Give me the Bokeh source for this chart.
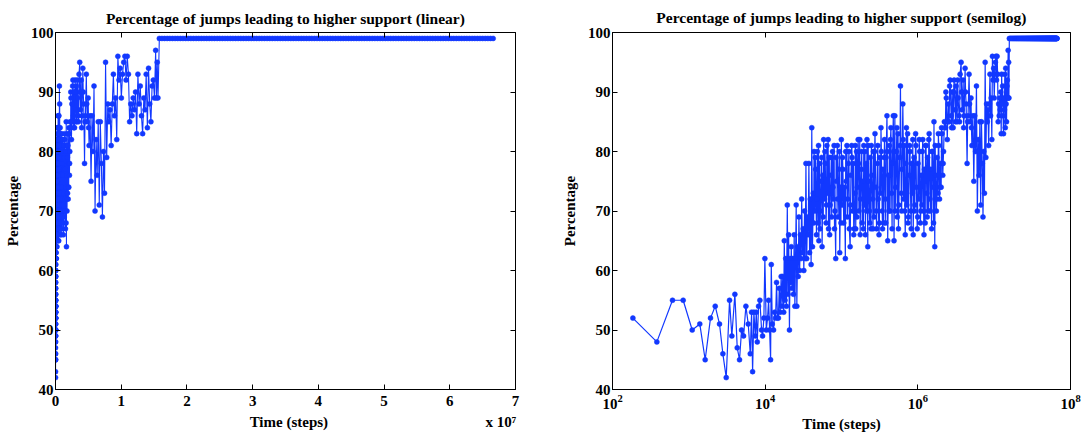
from bokeh.plotting import figure
from bokeh.layouts import row
from bokeh.models import (FixedTicker, CustomJSTickFormatter, LinearAxis,
                          Range1d, ColumnDataSource, CustomLabelingPolicy)
from bokeh.embed import file_html
from bokeh.resources import INLINE

# ---------------- data (time in steps, percentage) ----------------
time_early = [185, 381, 611, 843, 1107, 1393, 1637, 1922, 2217, 2524, 2791, 3090, 3414, 3660, 4010,
              4305, 4616, 4906, 5213, 5590, 6001, 6377, 6637, 6844, 7116, 7418, 7645, 7878, 8190, 8525,
              8975, 9250, 9620, 9910, 10340, 10750, 11090, 11430, 11780, 12020, 12390, 12890, 13290,
              13690, 14100]
pct_early = [52, 48, 55, 55, 50, 51, 45, 52, 54, 51, 46, 42, 55, 49, 56,
             47, 45, 50, 49, 54, 51, 46, 53, 43, 53, 49, 53, 48, 54, 55,
             50, 49, 52, 62, 50, 52, 55, 50, 45, 61, 51, 50, 53, 52, 58]

time_rise = [14500, 14900, 15300, 15700, 16200, 16600, 17000, 17500, 17800, 18200, 18600, 19000,
             19500, 19900, 20300, 20800, 21200, 21600, 22000, 22500, 23000, 23500, 24000, 24500,
             25000, 25500, 26000, 26600, 27100, 27700, 28300, 28900, 29500, 30100, 30800, 31500,
             32100, 32800, 33500, 34200, 35000, 35800, 36600, 37400, 38200, 39000, 40000, 40800, 41700]
pct_rise = [52, 52, 57, 53, 59, 54, 59, 53, 65, 55, 62, 54,
            71, 56, 66, 50, 62, 58, 64, 57, 62, 56, 66, 54,
            62, 71, 54, 64, 59, 69, 60, 66, 62, 72, 63, 67,
            60, 70, 62, 78, 62, 69, 66, 78, 63, 72, 61, 84, 64]

time_mid = [42700, 43700, 44800, 45900, 47000, 48200, 49300, 50500, 51800, 53000, 54300, 55700,
            57000, 58400, 59900, 61300, 62800, 64400, 66000, 67600, 69200, 70900, 72700, 74400,
            76300, 78100, 80000, 82000, 84000, 86100, 88200, 90300, 92500, 94800, 97100, 99500,
            101900, 104400, 107000, 109600, 112300, 115000, 117800, 120700, 123700, 126700, 129800,
            133000, 136200, 139600, 143000, 146500, 150100, 153700, 157500, 161300, 165300, 169300,
            173500, 177700, 182100, 186500, 191100, 195800, 200600, 205500, 210500, 215700, 221000,
            226400, 231900, 237600, 243400, 249400, 255500, 261700, 268100, 274700, 281400, 288300,
            295400, 302600, 310000, 317600]
pct_mid = [73, 80, 70, 77, 66, 80, 68, 65, 78, 70, 75, 64,
           76, 82, 72, 78, 68, 81, 73, 67, 79, 71, 76, 69,
           80, 72, 81, 70, 62, 75, 81, 69, 77, 63, 74, 82,
           71, 77, 68, 74, 62, 75, 81, 72, 78, 67, 64,
           76, 81, 70, 78, 67, 73, 67, 80, 74, 82, 70,
           82, 72, 77, 68, 75, 81, 71, 66, 78, 82, 64,
           75, 70, 79, 67, 76, 72, 80, 69, 83, 74, 67,
           78, 72, 66, 79]
# further samples read inside the dense band (10^4.6 .. 10^5.5)
time_mid_b = [43200, 45300, 47600, 50000, 52400, 55000, 57700, 60600, 63600, 66800, 70000, 73500,
              77200, 81000, 85000, 89200, 93600, 98300, 103100, 108300, 113600, 119200, 125200,
              131400, 137900, 144700, 151900, 159400, 167300, 175600, 184300, 193400, 203000,
              213000, 223700, 234700, 246400, 258600, 271400, 284800, 298900, 313800]
pct_mid_b = [68, 79, 72, 81, 67, 79, 69, 80, 71, 82, 66, 79,
             74, 67, 79, 72, 80, 68, 79, 72, 80, 69, 80,
             71, 79, 66, 81, 69, 78, 66, 80, 67, 80,
             70, 81, 68, 81, 67, 80, 70, 81, 68]

time_late = [325000, 333000, 341000, 349000, 358000, 366000, 375000, 384000, 394000, 403000,
             413000, 423000, 433000, 444000, 454000, 465000, 477000, 488000, 500000, 512000,
             525000, 538000, 551000, 564000, 578000, 592000, 606000, 621000, 636000, 652000,
             668000, 684000, 700000, 717000, 735000, 753000, 771000, 790000, 809000, 829000,
             849000, 870000, 891000, 913000, 935000, 958000, 981000, 1005000, 1030000, 1055000,
             1080000, 1107000, 1134000, 1161000, 1190000, 1219000, 1248000, 1279000, 1310000,
             1342000, 1375000, 1408000, 1443000, 1478000, 1514000, 1551000, 1589000, 1627000,
             1667000, 1708000, 1749000, 1792000, 1836000, 1880000, 1926000, 1973000, 2021000,
             2071000, 2121000, 2173000, 2226000]
pct_late = [73, 80, 70, 77, 68, 82, 72, 79, 86, 65,
            76, 81, 70, 84, 73, 78, 86, 65, 86, 74,
            80, 69, 83, 71, 79, 91, 73, 77, 88, 72,
            81, 66, 78, 71, 83, 69, 76, 80, 70, 78,
            73, 66, 79, 71, 83, 74, 67, 78, 72, 80,
            68, 76, 71, 82, 70, 77, 68, 81, 73,
            79, 70, 83, 72, 77, 67, 80, 74, 85,
            64, 76, 70, 79, 73, 81, 72, 78, 74,
            83, 76, 80, 85]
# further samples read inside the dense band (10^5.5 .. 10^6.35)
time_late_b = [329000, 345000, 362000, 380000, 398000, 418000, 438000, 460000, 482000, 506000,
               531000, 557000, 585000, 614000, 644000, 676000, 708000, 744000, 780000, 819000,
               859000, 902000, 946000, 993000, 1042000, 1094000, 1147000, 1204000, 1263000,
               1326000, 1391000, 1460000, 1532000, 1608000, 1687000, 1770000, 1858000, 1949000,
               2046000, 2147000]
pct_late_b = [84, 67, 79, 68, 80, 70, 82, 67, 80, 70,
              84, 67, 81, 70, 82, 70, 84, 68, 81, 67,
              82, 70, 81, 69, 82, 70, 80, 66, 81,
              69, 82, 70, 80, 68, 81, 72, 83, 74,
              84, 78]

time_high = [2.30e6, 2.36e6, 2.43e6, 2.50e6, 2.57e6, 2.65e6, 2.73e6, 2.81e6, 2.90e6, 2.99e6,
             3.08e6, 3.17e6, 3.27e6, 3.37e6, 3.47e6, 3.58e6, 3.69e6, 3.80e6, 3.92e6, 4.04e6,
             4.16e6, 4.29e6, 4.42e6, 4.55e6, 4.69e6, 4.83e6, 4.97e6, 5.11e6, 5.26e6, 5.41e6,
             5.56e6, 5.71e6, 5.86e6, 6.02e6, 6.18e6, 6.34e6, 6.50e6, 6.66e6, 6.82e6, 6.98e6,
             7.14e6, 7.30e6, 7.46e6, 7.62e6, 7.79e6, 7.96e6, 8.13e6, 8.30e6, 8.47e6, 8.64e6,
             8.81e6, 8.98e6, 9.15e6, 9.32e6, 9.49e6, 9.66e6, 9.84e6, 10.02e6, 10.20e6, 10.38e6,
             10.56e6, 10.74e6, 10.92e6, 11.10e6, 11.28e6, 11.46e6, 11.64e6, 11.82e6, 12.00e6, 12.18e6,
             12.36e6, 12.54e6, 12.72e6, 12.90e6, 13.08e6, 13.26e6, 13.44e6, 13.62e6, 13.80e6, 13.98e6,
             14.16e6, 14.34e6, 14.52e6, 14.70e6, 14.88e6, 15.06e6, 15.24e6, 15.36e6, 15.48e6, 15.60e6]
pct_high = [84, 89, 82, 88, 85, 92, 86, 90, 84, 92,
            87, 91, 85, 89, 86, 93, 95, 87, 92, 86,
            94, 88, 78, 86, 93, 85, 89, 81, 86, 75,
            86, 80, 91, 70, 82, 76, 85, 71, 85, 78,
            69, 80, 73, 95, 79, 88, 85, 87, 81, 88,
            93, 86, 89, 82, 96, 92, 94, 89, 93, 95,
            96, 92, 96, 93, 85, 88, 86, 89, 87, 90,
            83, 93, 88, 91, 86, 83, 89, 87, 93, 84,
            94, 88, 85, 91, 92, 89, 97, 89, 95, 89]
time_high_b = [2.33e6, 2.46e6, 2.61e6, 2.77e6, 2.94e6, 3.12e6, 3.32e6, 3.52e6, 3.74e6, 3.98e6,
               4.22e6, 4.49e6, 4.76e6, 5.04e6]
pct_high_b = [90, 85, 91, 84, 90, 85, 92, 85, 90, 84,
              90, 85, 88, 84]

time_plateau = [15.8e6, 16.2e6, 16.6e6, 17.0e6, 17.4e6, 17.8e6, 18.2e6, 18.6e6, 19.0e6, 19.4e6, 19.8e6, 20.2e6, 20.6e6, 21.0e6, 21.4e6, 21.8e6,
                22.2e6, 22.6e6, 23.0e6, 23.4e6, 23.8e6, 24.2e6, 24.6e6, 25.0e6, 25.4e6, 25.8e6, 26.2e6, 26.6e6, 27.0e6, 27.4e6, 27.8e6, 28.2e6,
                28.6e6, 29.0e6, 29.4e6, 29.8e6, 30.2e6, 30.6e6, 31.0e6, 31.4e6, 31.8e6, 32.2e6, 32.6e6, 33.0e6, 33.4e6, 33.8e6, 34.2e6, 34.6e6,
                35.0e6, 35.4e6, 35.8e6, 36.2e6, 36.6e6, 37.0e6, 37.4e6, 37.8e6, 38.2e6, 38.6e6, 39.0e6, 39.4e6, 39.8e6, 40.2e6, 40.6e6, 41.0e6,
                41.4e6, 41.8e6, 42.2e6, 42.6e6, 43.0e6, 43.4e6, 43.8e6, 44.2e6, 44.6e6, 45.0e6, 45.4e6, 45.8e6, 46.2e6, 46.6e6, 47.0e6, 47.4e6,
                47.8e6, 48.2e6, 48.6e6, 49.0e6, 49.4e6, 49.8e6, 50.2e6, 50.6e6, 51.0e6, 51.4e6, 51.8e6, 52.2e6, 52.6e6, 53.0e6, 53.4e6, 53.8e6,
                54.2e6, 54.6e6, 55.0e6, 55.4e6, 55.8e6, 56.2e6, 56.6e6, 57.0e6, 57.4e6, 57.8e6, 58.2e6, 58.6e6, 59.0e6, 59.4e6, 59.8e6, 60.2e6,
                60.6e6, 61.0e6, 61.4e6, 61.8e6, 62.2e6, 62.6e6, 63.0e6, 63.4e6, 63.8e6, 64.2e6, 64.6e6, 65.0e6, 65.4e6, 65.8e6, 66.2e6, 66.6e6]
pct_plateau = [99, 99, 99, 99, 99, 99, 99, 99, 99, 99, 99, 99, 99, 99, 99, 99,
               99, 99, 99, 99, 99, 99, 99, 99, 99, 99, 99, 99, 99, 99, 99, 99,
               99, 99, 99, 99, 99, 99, 99, 99, 99, 99, 99, 99, 99, 99, 99, 99,
               99, 99, 99, 99, 99, 99, 99, 99, 99, 99, 99, 99, 99, 99, 99, 99,
               99, 99, 99, 99, 99, 99, 99, 99, 99, 99, 99, 99, 99, 99, 99, 99,
               99, 99, 99, 99, 99, 99, 99, 99, 99, 99, 99, 99, 99, 99, 99, 99,
               99, 99, 99, 99, 99, 99, 99, 99, 99, 99, 99, 99, 99, 99, 99, 99,
               99, 99, 99, 99, 99, 99, 99, 99, 99, 99, 99, 99, 99, 99, 99, 99]

# merge all samples into one time-ordered series
all_times = (time_early + time_rise + time_mid + time_mid_b + time_late + time_late_b
             + time_high + time_high_b + time_plateau)
all_pcts = (pct_early + pct_rise + pct_mid + pct_mid_b + pct_late + pct_late_b
            + pct_high + pct_high_b + pct_plateau)
ordered = sorted(zip(all_times, all_pcts))
time_steps = [t for t, _ in ordered]
percentage = [v for _, v in ordered]

linear_xticks = [0, 1e7, 2e7, 3e7, 4e7, 5e7, 6e7, 7e7]
log_xticks = [1e2, 1e4, 1e6, 1e8]
yticks = [40, 50, 60, 70, 80, 90, 100]

titles = ["Percentage of jumps leading to higher support (linear)",
          "Percentage of jumps leading to higher support (semilog)"]
x_label = "Time (steps)"
y_label = "Percentage"
x_multiplier = "x 10\u2077"

# ---------------- styling ----------------
FONT = "Liberation Serif"
BLUE = "#1238ff"
NBSP = "\u00a0"


def style_axis(ax, show_labels=True, label_standoff=3, axis_label_standoff=1):
    ax.major_tick_in = 5
    ax.major_tick_out = 0
    ax.minor_tick_line_color = None
    ax.axis_line_color = "black"
    ax.major_tick_line_color = "black"
    ax.major_label_text_font = FONT
    ax.major_label_text_font_style = "bold"
    ax.major_label_text_color = "black"
    ax.axis_label_text_font = FONT
    ax.axis_label_text_font_size = "15px"
    ax.axis_label_text_font_style = "bold"
    ax.axis_label_text_color = "black"
    ax.axis_label_standoff = axis_label_standoff
    if show_labels:
        ax.major_label_text_font_size = "15px"
        ax.major_label_standoff = label_standoff
    else:
        ax.major_label_text_font_size = "2px"
        ax.major_label_standoff = 0
        ax.major_label_policy = CustomLabelingPolicy(code="return []")
        ax.axis_line_color = None


def style_fig(p, standoff):
    p.background_fill_color = "white"
    p.border_fill_color = "white"
    p.outline_line_color = "black"
    p.outline_line_width = 1
    p.grid.visible = False
    p.title.text_font = FONT
    p.title.text_font_size = "15.5px"
    p.title.text_font_style = "bold"
    p.title.text_color = "black"
    p.title.align = "center"
    p.title.standoff = standoff


src = ColumnDataSource(data=dict(t=time_steps, pct=percentage))

# ---------------- left: linear ----------------
p1 = figure(width=540, height=435, output_backend="svg", toolbar_location=None,
            x_range=Range1d(0, 7e7), y_range=Range1d(40, 100), title=titles[0],
            min_border_left=55, min_border_right=25, min_border_top=30, min_border_bottom=44)
style_fig(p1, 4)
p1.line("t", "pct", source=src, color=BLUE, line_width=1.1)
p1.scatter("t", "pct", source=src, size=5, color=BLUE, line_width=0.5)
p1.xaxis.ticker = FixedTicker(ticks=linear_xticks)
p1.xaxis.formatter = CustomJSTickFormatter(code="return (tick/1e7).toFixed(0);")
p1.yaxis.ticker = FixedTicker(ticks=yticks)
# x-axis label carries the "x 10^7" multiplier at its right end (under the last tick)
p1.xaxis.axis_label = NBSP * 52 + x_label + NBSP * 42 + x_multiplier
p1.yaxis.axis_label = y_label
style_axis(p1.xaxis[0], label_standoff=6, axis_label_standoff=5)
style_axis(p1.yaxis[0], label_standoff=2, axis_label_standoff=7)
top1 = LinearAxis(ticker=FixedTicker(ticks=linear_xticks))
right1 = LinearAxis(ticker=FixedTicker(ticks=yticks))
style_axis(top1, False)
style_axis(right1, False)
p1.add_layout(top1, "above")
p1.add_layout(right1, "right")

# ---------------- right: semilog ----------------
p2 = figure(width=546, height=435, output_backend="svg", toolbar_location=None,
            x_axis_type="log", x_range=Range1d(1e2, 1e8), y_range=Range1d(40, 100), title=titles[1],
            min_border_left=72, min_border_right=16, min_border_top=32, min_border_bottom=46)
style_fig(p2, 5)
p2.line("t", "pct", source=src, color=BLUE, line_width=1.2)
p2.scatter("t", "pct", source=src, size=5, color=BLUE, line_width=0.5)
p2.xaxis.ticker = FixedTicker(ticks=log_xticks)
p2.yaxis.ticker = FixedTicker(ticks=yticks)
p2.xaxis.axis_label = x_label
p2.yaxis.axis_label = y_label
style_axis(p2.xaxis[0], label_standoff=5, axis_label_standoff=4)
style_axis(p2.yaxis[0], label_standoff=2, axis_label_standoff=7)
top2 = LinearAxis(ticker=FixedTicker(ticks=log_xticks))
right2 = LinearAxis(ticker=FixedTicker(ticks=yticks))
style_axis(top2, False)
style_axis(right2, False)
p2.add_layout(top2, "above")
p2.add_layout(right2, "right")

layout = row(p1, p2)
open("out.html", "w").write(file_html(layout, INLINE))
